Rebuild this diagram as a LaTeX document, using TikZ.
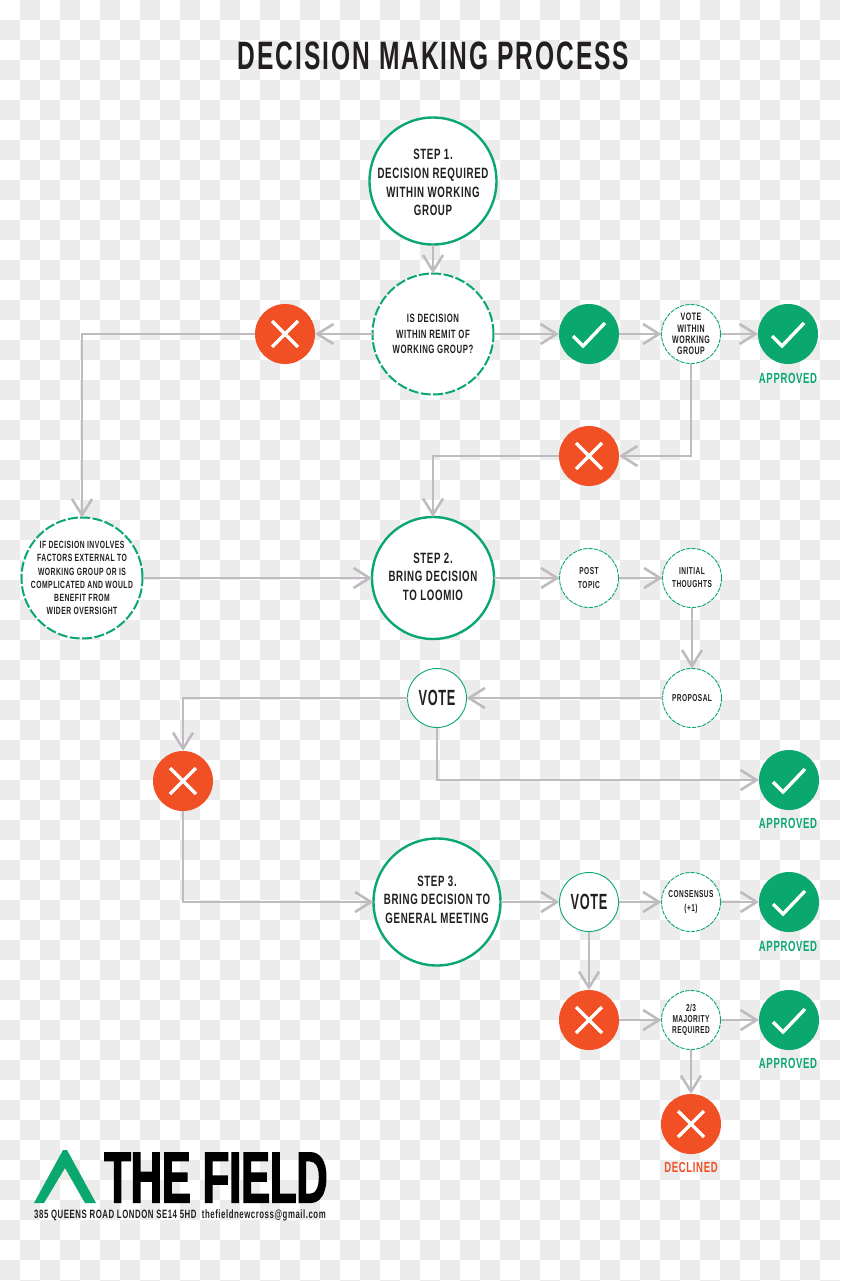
\documentclass[tikz,border=0pt]{standalone}
\usepackage{fontspec}
\setmainfont[FakeStretch=0.65,LetterSpace=4.5]{Liberation Sans}
\newfontfamily\logofont[FakeStretch=0.6,FakeBold=2]{Liberation Sans Bold}
\newfontfamily\titlefont[FakeStretch=0.62,LetterSpace=5]{Liberation Sans Bold}
\newfontfamily\votefont[FakeStretch=0.58,LetterSpace=3]{Liberation Sans Bold}
\usetikzlibrary{arrows.meta}
\definecolor{dgreen}{HTML}{0AA76E}
\definecolor{dorange}{HTML}{F05023}
\definecolor{dline}{HTML}{BFBBC0}
\definecolor{dink}{HTML}{231F20}
\definecolor{dcheck}{HTML}{ECECEC}
\def\px{0.75pt}
\tikzset{
  x=0.75pt,y=-0.75pt,
  circ/.style={circle,inner sep=0pt,outer sep=0pt,align=center,fill=white,draw=dgreen,text=dink},
  bigstep/.style={circ,inner sep=-6pt,minimum size=127*\px,line width=2.4*\px,font=\fontsize{11.2}{13.9}\selectfont\bfseries},
  bigdash/.style={circ,minimum size=121*\px,line width=2*\px,dash pattern=on 7.5pt off 1.8pt},
  remitfont/.style={font=\fontsize{9.0}{11.8}\selectfont\bfseries},
  extfont/.style={inner sep=-12pt,font=\fontsize{7.85}{9.85}\selectfont\bfseries},
  small/.style={circ,minimum size=59*\px,line width=.9*\px,dash pattern=on 3.2pt off .8pt,font=\fontsize{8.1}{8.4}\selectfont\bfseries},
  smallb/.style={small,font=\fontsize{7.55}{9.8}\selectfont\bfseries},
  votec/.style={circ,minimum size=59*\px,line width=.9*\px,font=\fontsize{16.5}{18}\votefont},
  okdot/.style={circle,inner sep=0pt,outer sep=0pt,minimum size=60*\px,fill=dgreen,
    path picture={\draw[white,line width=3.4*\px,shift={(path picture bounding box.center)}] (-16,2)--(-6,12)--(16,-11);}},
  nodot/.style={circle,inner sep=0pt,outer sep=0pt,minimum size=60*\px,fill=dorange,
    path picture={\draw[white,line width=3.4*\px,shift={(path picture bounding box.center)}] (-13,-13)--(13,13) (-13,13)--(13,-13);}},
  oklabel/.style={text=dgreen,inner sep=0pt,font=\fontsize{11}{13}\selectfont\bfseries},
  nolabel/.style={text=dorange,inner sep=0pt,font=\fontsize{11}{13}\selectfont\bfseries},
  flow/.style={draw=dline,line width=2.6*\px,-{Straight Barb[length=12pt,width=15pt]}},
}
\begin{document}
\begin{tikzpicture}
\useasboundingbox (0,0) rectangle (840,1281);
\fill[white] (0,0) rectangle (840,1281);
\foreach \r in {0,2,...,64} \foreach \c in {1,3,...,41} \fill[dcheck] ({\c*20},{\r*20}) rectangle ++(20,20);
\foreach \r in {1,3,...,63} \foreach \c in {0,2,...,40} \fill[dcheck] ({\c*20},{\r*20}) rectangle ++(20,20);

\node[text=dink,inner sep=0pt,font=\fontsize{29.7}{32}\titlefont] (title) at (433.5,55.5) {DECISION MAKING PROCESS};

\node[bigstep] (s1) at (433,181) {\rule{0pt}{10.3pt}STEP 1.\\DECISION REQUIRED\\WITHIN WORKING\\GROUP};
\node[bigdash,remitfont] (remit) at (433,334) {IS DECISION\\WITHIN REMIT OF\\WORKING GROUP?};
\node[nodot] (x1) at (285,334) {};
\node[okdot] (ck1) at (589,334) {};
\node[small] (votewg) at (691,334) {VOTE\\WITHIN\\WORKING\\GROUP};
\node[okdot] (ok1) at (788,334) {};
\node[oklabel] (ok1l) at (788,378) {APPROVED};
\node[nodot] (x2) at (589,456) {};

\node[bigdash,extfont] (ext) at (82,578) {IF DECISION INVOLVES\\FACTORS EXTERNAL TO\\WORKING GROUP OR IS\\COMPLICATED AND WOULD\\BENEFIT FROM\\WIDER OVERSIGHT};
\node[bigstep,minimum size=122*\px] (s2) at (433,578) {STEP 2.\\BRING DECISION\\TO LOOMIO\rule[-2.25pt]{0pt}{0pt}};
\node[smallb] (post) at (589,578) {POST\\TOPIC};
\node[smallb] (init) at (692,578) {INITIAL\\THOUGHTS};
\node[smallb] (prop) at (692,698) {PROPOSAL};
\node[votec] (vote1) at (437,698) {VOTE};
\node[nodot] (x3) at (183,781) {};
\node[okdot] (ok2) at (789,780) {};
\node[oklabel] (ok2l) at (788,823) {APPROVED};

\node[bigstep] (s3) at (437,902) {STEP 3.\\BRING DECISION TO\\GENERAL MEETING\rule[-3.75pt]{0pt}{0pt}};
\node[votec] (vote2) at (589,902) {VOTE};
\node[smallb] (cons) at (691,902) {CONSENSUS\\(+1)};
\node[okdot] (ok3) at (789,902) {};
\node[oklabel] (ok3l) at (788,946) {APPROVED};
\node[nodot] (x4) at (589,1020) {};
\node[smallb,font=\fontsize{7.55}{8.2}\selectfont\bfseries] (maj) at (691,1020) {2/3\\MAJORITY\\REQUIRED};
\node[okdot] (ok4) at (789,1020) {};
\node[oklabel] (ok4l) at (788,1063) {APPROVED};
\node[nodot] (x5) at (691,1124) {};
\node[nolabel] (x5l) at (691,1167) {DECLINED};

\draw[flow] (s1) -- (remit);
\draw[flow] (remit) -- (x1);
\draw[flow] (remit) -- (ck1);
\draw[flow] (ck1) -- (votewg);
\draw[flow] (votewg) -- (ok1);
\draw[flow] (votewg.south) |- (x2.east);
\draw[flow] (x2.west) -| (s2.north);
\draw[flow] (x1.west) -| (ext.north);
\draw[flow] (ext) -- (s2);
\draw[flow] (s2) -- (post);
\draw[flow] (post) -- (init);
\draw[flow] (init) -- (prop);
\draw[flow] (prop) -- (vote1);
\draw[flow] (vote1.west) -| (x3.north);
\draw[flow] (vote1.south) |- (ok2.west);
\draw[flow] (x3.south) |- (s3.west);
\draw[flow] (s3) -- (vote2);
\draw[flow] (vote2) -- (cons);
\draw[flow] (cons) -- (ok3);
\draw[flow] (vote2) -- (x4);
\draw[flow] (x4) -- (maj);
\draw[flow] (maj) -- (ok4);
\draw[flow] (maj) -- (x5);

\fill[dgreen] (34,1203) -- (63,1150) -- (67,1150) -- (96,1203) -- (85,1203) -- (65,1168) -- (44,1203) -- cycle;
\node[text=black,inner sep=0pt,font=\fontsize{54}{58}\logofont] (logo) at (216,1177.5) {THE FIELD};
\node[text=dink,inner sep=0pt,font=\fontsize{9.03}{10}\selectfont\bfseries] (addr) at (180,1215) {385 QUEENS ROAD LONDON SE14 5HD\ \ thefieldnewcross@gmail.com};
\end{tikzpicture}
\end{document}
